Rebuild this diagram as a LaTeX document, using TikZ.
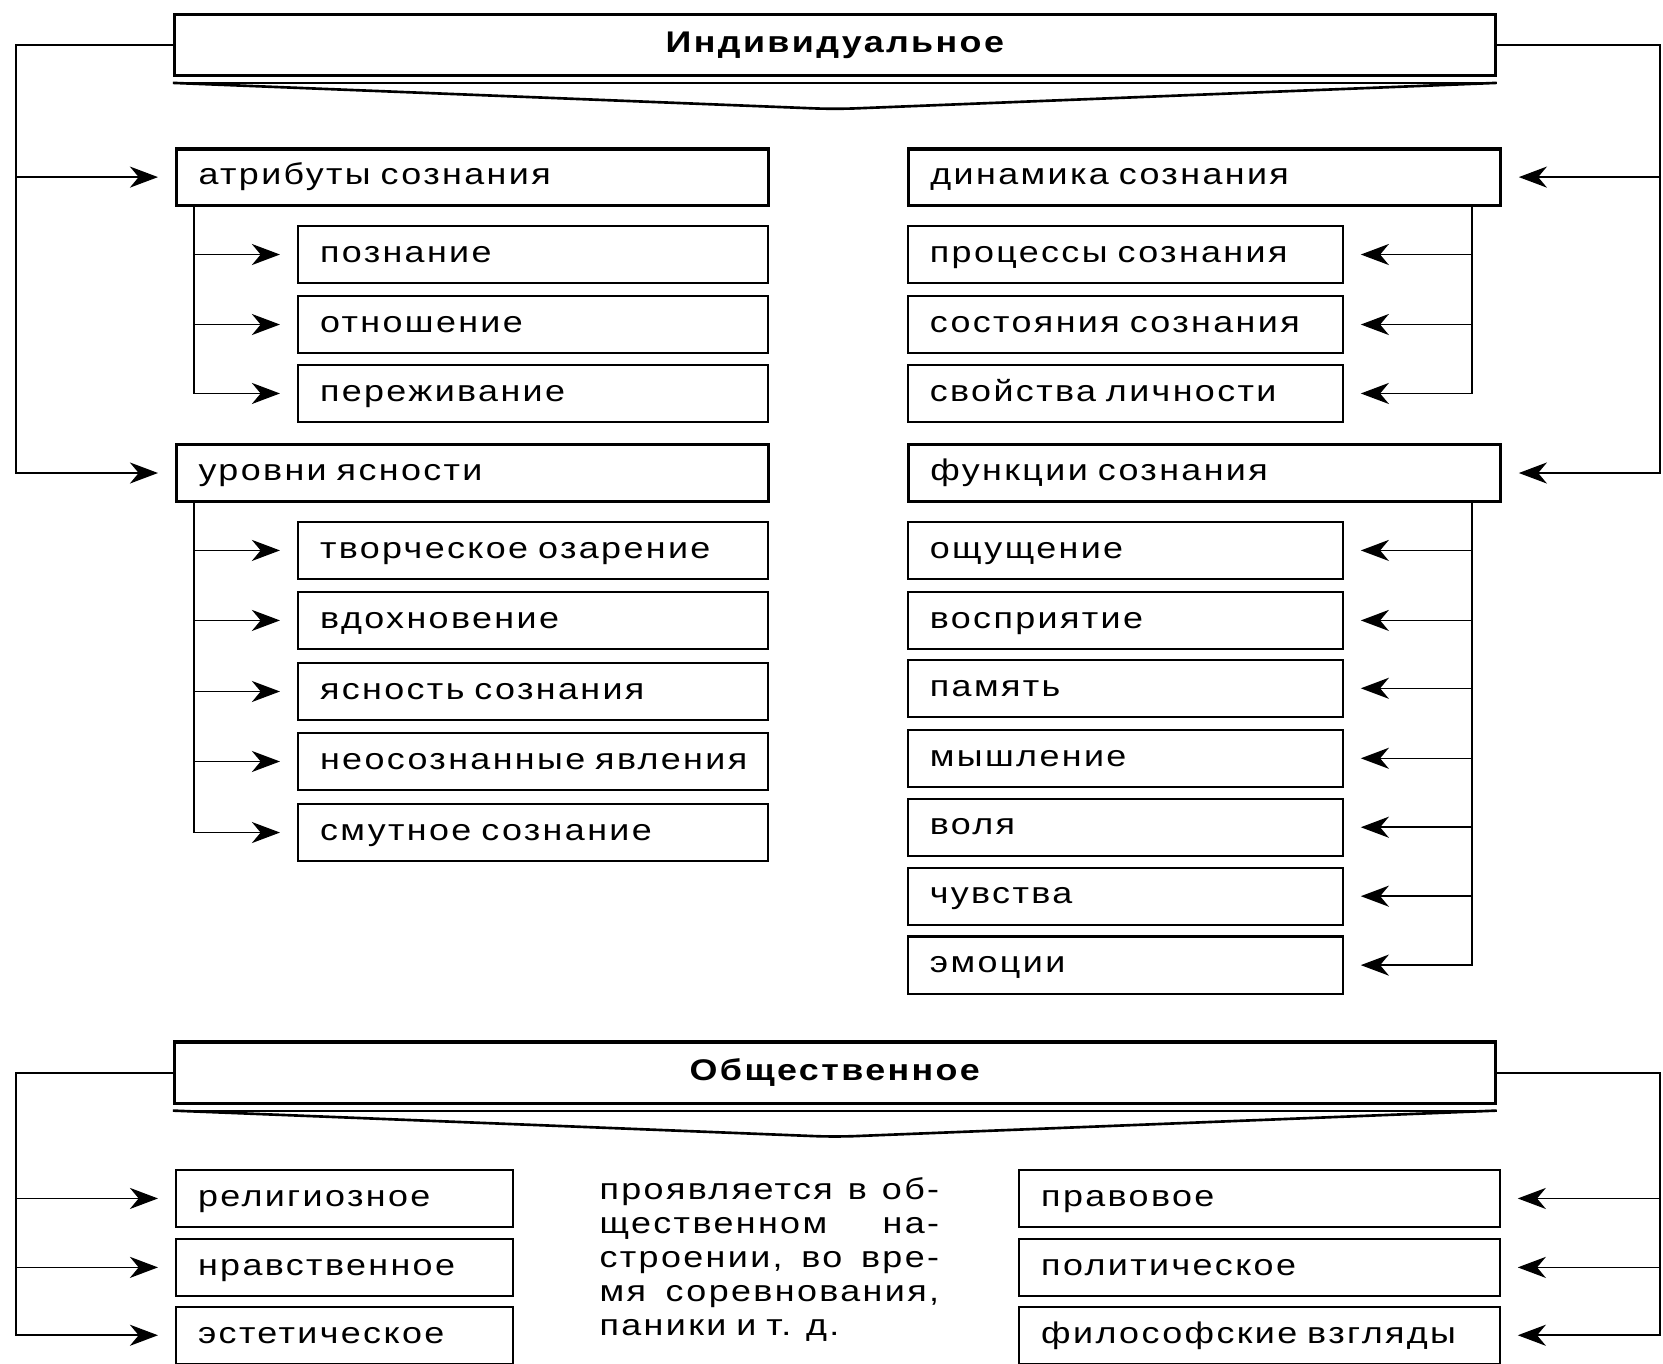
\documentclass[tikz,border=0pt]{standalone}
\usepackage{fontspec}
\setmainfont{Liberation Sans}[LetterSpace=8, FakeStretch=1.2, WordSpace=1.25]
\usetikzlibrary{positioning,arrows.meta,calc}

\tikzset{
  box/.style={draw, line width=1.2pt, anchor=north west, text width=#1, inner xsep=0.44cm,
    inner ysep=0pt, minimum height=1.145cm, text height=11pt, text depth=2.2pt, align=left,
    font=\fontsize{17}{20}\selectfont},
  mainbox/.style={box=10.956cm, line width=1.8pt, minimum height=1.124cm},
  hdrbox/.style={draw, line width=1.8pt, anchor=north west, minimum width=26.41cm,
    minimum height=1.23cm, font=\bfseries\fontsize{17}{20}\selectfont},
  arr/.style={line width=0.9pt, -{Stealth[length=16pt,width=12pt,inset=5pt]}, shorten >=0.34cm},
  para/.style={anchor=north west, inner sep=0pt, text width=6.79cm, align=left,
    font=\fontsize{17}{19.3}\selectfont},
}

\begin{document}
\begin{tikzpicture}[x=0.021212cm, y=-0.021212cm]
\useasboundingbox (0,0) rectangle (1568,1286);
\coordinate (lx) at (15,0);
\coordinate (rx) at (1565,0);

% Individual
\node[hdrbox] (ind) at (163,12) {Индивидуальное};
\draw[line width=1.2pt] ([yshift=-0.11cm]ind.south west) -- ([yshift=-0.11cm]ind.south east);
\draw[line width=1.5pt, rounded corners=0.4cm] ([yshift=-0.11cm]ind.south west)
  -- ($(ind.south)+(0,30)$) -- ([yshift=-0.11cm]ind.south east);

% left column
\node[mainbox] (atr) at (165,139) {атрибуты сознания};
\foreach \nm/\y/\t in {poz/212/познание, otn/278/отношение, per/343/переживание}
  \node[box=8.517cm] (\nm) at (280,\y) {\mbox{\t}};
\node[mainbox] (urov) at (165,418) {уровни ясности};
\foreach \nm/\y/\t in {tvor/491/творческое озарение, vdoh/557/вдохновение,
    yasn/624/ясность сознания, neos/690/неосознанные явления, smut/757/смутное сознание}
  \node[box=8.517cm] (\nm) at (280,\y) {\mbox{\t}};

% right column
\node[mainbox] (din) at (855,139) {динамика сознания};
\foreach \nm/\y/\t in {proc/212/процессы сознания, sost/278/состояния сознания,
    svoy/343/свойства личности}
  \node[box=7.817cm] (\nm) at (855,\y) {\mbox{\t}};
\node[mainbox] (funk) at (855,418) {функции сознания};
\foreach \nm/\y/\t in {osch/491/ощущение, vospr/557/восприятие, pam/621/память,
    mysh/687/мышление, vol/752/воля, chuv/817/чувства, emo/882/эмоции}
  \node[box=7.817cm] (\nm) at (855,\y) {\mbox{\t}};

% outer connectors
\draw[arr] (ind.west) -| (lx |- urov.west) -- (urov.west);
\draw[arr] (lx |- atr.west) -- (atr.west);
\draw[arr] (ind.east) -| (rx |- funk.east) -- (funk.east);
\draw[arr] (rx |- din.east) -- (din.east);

% inner connectors
\coordinate (ta) at ($(atr.south west)+(18,0)$);
\draw[arr] (ta) |- (per.west);
\foreach \nm in {poz,otn} \draw[arr] (ta |- \nm.west) -- (\nm.west);
\coordinate (tu) at ($(urov.south west)+(18,0)$);
\draw[arr] (tu) |- (smut.west);
\foreach \nm in {tvor,vdoh,yasn,neos} \draw[arr] (tu |- \nm.west) -- (\nm.west);
\coordinate (td) at ($(din.south east)+(-28,0)$);
\draw[arr] (td) |- (svoy.east);
\foreach \nm in {proc,sost} \draw[arr] (td |- \nm.east) -- (\nm.east);
\coordinate (tf) at ($(funk.south east)+(-28,0)$);
\draw[arr] (tf) |- (emo.east);
\foreach \nm in {osch,vospr,pam,mysh,vol,chuv} \draw[arr] (tf |- \nm.east) -- (\nm.east);

% Social
\node[hdrbox] (obs) at (163,981) {Общественное};
\draw[line width=1.2pt] ([yshift=-0.11cm]obs.south west) -- ([yshift=-0.11cm]obs.south east);
\draw[line width=1.5pt, rounded corners=0.4cm] ([yshift=-0.11cm]obs.south west)
  -- ($(obs.south)+(0,30)$) -- ([yshift=-0.11cm]obs.south east);
\foreach \nm/\y/\t in {rel/1102/религиозное, nrav/1167/нравственное, est/1231/эстетическое}
  \node[box=5.865cm] (\nm) at (165,\y) {\mbox{\t}};
\foreach \nm/\y/\t in {prav/1102/правовое, polit/1167/политическое, filos/1231/философские взгляды}
  \node[box=8.729cm] (\nm) at (960,\y) {\mbox{\t}};
\node[para] (txt) at (565,1110) {\makebox[6.79cm][s]{проявляется\hfill в\hfill об-}\\
  \makebox[6.79cm][s]{щественном\hfill на-}\\ \makebox[6.79cm][s]{строении,\hfill во\hfill вре-}\\
  \makebox[6.79cm][s]{мя\hfill соревнования,}\\ паники и т. д.};
\draw[arr] (obs.west) -| (lx |- est.west) -- (est.west);
\foreach \nm in {rel,nrav} \draw[arr] (lx |- \nm.west) -- (\nm.west);
\draw[arr] (obs.east) -| (rx |- filos.east) -- (filos.east);
\foreach \nm in {prav,polit} \draw[arr] (rx |- \nm.east) -- (\nm.east);
\end{tikzpicture}
\end{document}
